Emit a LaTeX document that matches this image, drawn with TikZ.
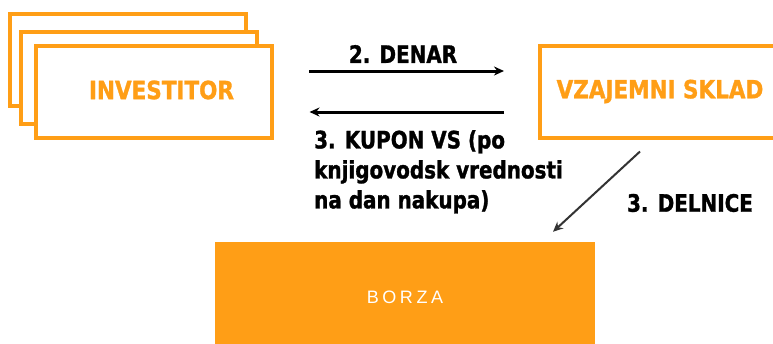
\documentclass[tikz,border=0pt]{standalone}
\usepackage{fontspec}
\setmainfont{DejaVu Sans}
\newfontfamily\labfont[FakeStretch=0.83, BoldFeatures={FakeBold=1.2}]{DejaVu Sans}
\newfontfamily\cardfont[FakeStretch=0.86, BoldFeatures={FakeBold=1.2}]{DejaVu Sans}
\newfontfamily\thinfont[LetterSpace=20]{Liberation Sans}
\usetikzlibrary{arrows.meta}
\definecolor{fundorange}{RGB}{255,158,22}
\begin{document}
\begin{tikzpicture}[x=1pt,y=-1pt,
  card/.style={draw=fundorange, line width=4pt, fill=white,
    minimum width=236pt, minimum height=92pt, inner sep=0pt},
  orangetext/.style={font=\cardfont\bfseries\fontsize{25}{28}\selectfont,
    text=fundorange, inner sep=0pt},
  blacklabel/.style={font=\labfont\bfseries\fontsize{24}{30}\selectfont,
    inner sep=0pt},
  flow/.style={line width=3pt, -{Stealth[length=10pt,width=9pt]}}]
\useasboundingbox (0,0) rectangle (773,343);

% stacked investor cards, back to front
\node[card] (inv3) at (127.5,59.5) {};
\node[card] (inv2) at (139,78) {};
\node[card, label={[orangetext, xshift=8pt, yshift=2pt]center:INVESTITOR}]
  (inv1) at (153.5,92) {};

% mutual fund
\node[card, minimum width=240pt] (sklad) at (660,91.5) {};
\node[orangetext] (skladtext) at (sklad.center) {VZAJEMNI SKLAD};

% stock exchange
\node[fill=fundorange, minimum width=380pt, minimum height=110pt, inner sep=0pt,
  text=white, font=\thinfont\fontsize{18}{20}\selectfont] (borza) at (405,297) {BORZA};

% money and coupon flows
\draw[flow, shorten <=35.5pt, shorten >=34pt]
  ([yshift=21pt]inv1.east) -- ([yshift=21pt]inv1.east -| sklad.west);
\draw[flow, shorten <=34pt, shorten >=36pt]
  ([yshift=-20pt]inv1.east -| sklad.west) -- ([yshift=-20pt]inv1.east);

% shares flow
\coordinate (dtop) at ([shift={(-20pt,-12pt)}]sklad.south);
\coordinate (dbot) at ([shift={(148pt,10pt)}]borza.north);
\draw[flow, line width=2pt, draw=black!80] (dtop) -- (dbot);

% labels
\node[blacklabel] (denar) at (403,54) {2. DENAR};
\node[blacklabel, align=left, anchor=north west] (kupon) at (314,130)
  {3. KUPON VS (po\\knjigovodsk vrednosti\\na dan nakupa)};
\node[blacklabel] (delnice) at (690,203) {3. DELNICE};
\end{tikzpicture}
\end{document}
